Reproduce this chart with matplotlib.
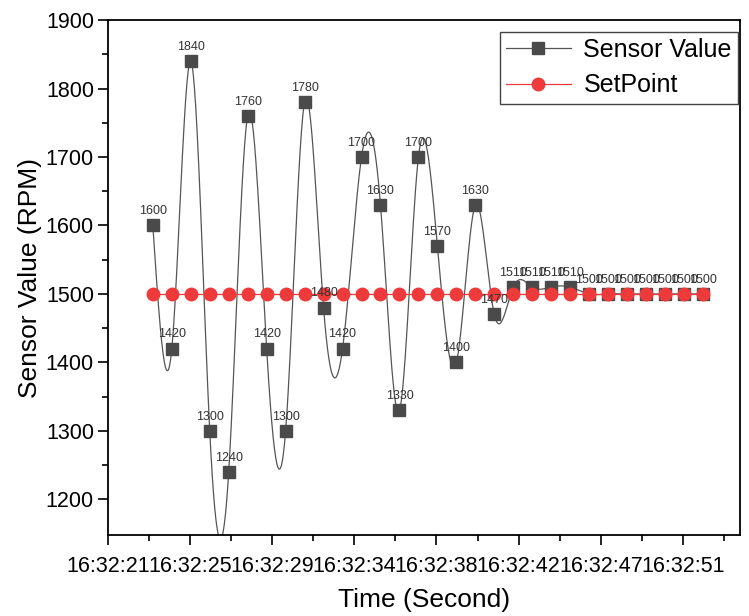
import numpy as np
import matplotlib.pyplot as plt

plt.rcParams['font.family'] = ['Liberation Sans', 'DejaVu Sans']

# seconds after 16:32:00
seconds = list(range(23, 53))
sensor = [1600, 1420, 1840, 1300, 1240, 1760, 1420, 1300, 1780, 1480,
          1420, 1700, 1630, 1330, 1700, 1570, 1400, 1630, 1470, 1510,
          1510, 1510, 1510, 1500, 1500, 1500, 1500, 1500, 1500, 1500]
setpoint = [1500] * 30
tick_labels = ["16:32:21", "16:32:25", "16:32:29", "16:32:34",
               "16:32:38", "16:32:42", "16:32:47", "16:32:51"]


def natural_spline(x, y, n=30):
    # natural cubic spline, like Origin's "spline" connect mode
    x = np.asarray(x, float)
    y = np.asarray(y, float)
    m = len(x)
    h = np.diff(x)
    A = np.zeros((m, m))
    b = np.zeros(m)
    A[0, 0] = A[-1, -1] = 1
    for i in range(1, m - 1):
        A[i, i - 1] = h[i - 1]
        A[i, i] = 2 * (h[i - 1] + h[i])
        A[i, i + 1] = h[i]
        b[i] = 6 * ((y[i + 1] - y[i]) / h[i] - (y[i] - y[i - 1]) / h[i - 1])
    M = np.linalg.solve(A, b)
    xs, ys = [], []
    for i in range(m - 1):
        t = np.linspace(x[i], x[i + 1], n, endpoint=(i == m - 2))
        a = x[i + 1] - t
        c = t - x[i]
        s = (M[i] * a**3 + M[i + 1] * c**3) / (6 * h[i]) \
            + (y[i] / h[i] - M[i] * h[i] / 6) * a \
            + (y[i + 1] / h[i] - M[i + 1] * h[i] / 6) * c
        xs.append(t)
        ys.append(s)
    return np.concatenate(xs), np.concatenate(ys)


fig = plt.figure(figsize=(7.49, 6.16), dpi=100)
ax = fig.add_axes([0.144, 0.1315, 0.844, 0.836])

sx, sy = natural_spline(seconds, sensor)
ax.plot(sx, sy, color='#555555', lw=0.9, zorder=2)
ax.plot(seconds, sensor, ls='none', marker='s', ms=8.5, color='#4a4a4a', zorder=3)
ax.plot(seconds, setpoint, color='#ee3a3a', lw=0.9, marker='o', ms=9,
        markerfacecolor='#ee3a3a', markeredgecolor='#ee3a3a', zorder=4)

for t, v in zip(seconds, sensor):
    ax.annotate(str(v), (t, v), xytext=(0, 6), textcoords='offset points',
                ha='center', va='bottom', fontsize=9, color='#333333', zorder=5)

# legend proxies
l1, = ax.plot([], [], color='#555555', lw=0.9, marker='s', ms=8.5,
              markerfacecolor='#4a4a4a', markeredgecolor='#4a4a4a')
l2, = ax.plot([], [], color='#ee3a3a', lw=0.9, marker='o', ms=9)
leg = ax.legend([l1, l2], ['Sensor Value', 'SetPoint'], loc='upper right',
                bbox_to_anchor=(0.997, 0.977),
                fontsize=18, fancybox=False, edgecolor='#444444', framealpha=1,
                handlelength=2.6, borderpad=0.25, labelspacing=0.45,
                handletextpad=0.5, borderaxespad=0.0)
leg.get_frame().set_linewidth(1.0)

xmin = seconds[0] - 2.37
step = 4.33
ax.set_xlim(xmin, seconds[-1] + 1.95)
ax.set_ylim(1148, 1900)
ax.set_xticks([xmin + k * step for k in range(len(tick_labels))])
ax.set_xticklabels(tick_labels)
ax.set_xticks([xmin + (k + 0.5) * step for k in range(len(tick_labels))], minor=True)
ax.set_yticks(range(1200, 1901, 100))
ax.set_yticks(range(1250, 1900, 100), minor=True)

ax.tick_params(axis='both', which='major', direction='out', length=7, width=1.2,
               labelsize=15.5, pad=3)
ax.tick_params(axis='both', which='minor', direction='out', length=4, width=1.2)
ax.tick_params(axis='x', which='major', pad=8)
for s in ax.spines.values():
    s.set_linewidth(1.3)

ax.set_xlabel('Time (Second)', fontsize=19, labelpad=8)
ax.set_ylabel('Sensor Value (RPM)', fontsize=19, labelpad=3)

fig.savefig('out.png', dpi=100)
